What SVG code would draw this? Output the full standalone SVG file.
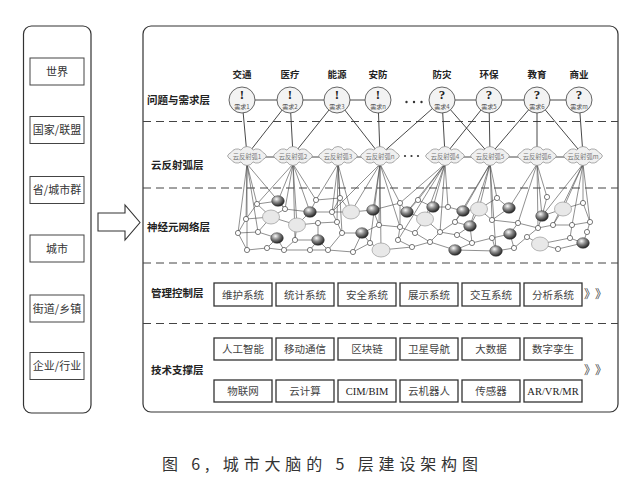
<svg xmlns="http://www.w3.org/2000/svg" width="641" height="491" viewBox="0 0 641 491">
<style>
.pan{fill:#fff;stroke:#333;stroke-width:1.2}
.lb{fill:#fff;stroke:#444;stroke-width:1}
.t{font-family:"Noto Sans CJK SC",sans-serif;fill:#333;text-anchor:middle}
.lay{font-family:"Noto Sans CJK SC",sans-serif;fill:#222;font-weight:700;font-size:10.5px}
.dash{stroke:#444;stroke-width:1;stroke-dasharray:8 5;fill:none}
.ln{stroke:#333;stroke-width:0.9;fill:none}
.nl{stroke:#444;stroke-width:0.6;fill:none}
.sn{fill:#fff;stroke:#444;stroke-width:0.7}
.le{fill:#e8e8e8;stroke:#999;stroke-width:0.7}
.dk{fill:url(#sph);stroke:#333;stroke-width:0.5}
.bx{fill:#fff;stroke:#333;stroke-width:1.3}
.dc{fill:#f3f3f3;stroke:#555;stroke-width:0.9}
.cl{fill:#f0f0f0;stroke:#888;stroke-width:0.7}
.ct{font-family:"Noto Sans CJK SC",sans-serif;fill:#777;font-size:6.3px;text-anchor:middle}
.bt{font-family:"Noto Sans CJK SC",sans-serif;fill:#444;font-size:10.5px;text-anchor:middle}
.sf{font-family:"Liberation Serif",serif;fill:#222;font-size:10.5px;text-anchor:middle}
.mk{font-family:"Liberation Serif",serif;fill:#222;font-size:13px;font-weight:700;text-anchor:middle}
.dq{font-family:"Noto Sans CJK SC",sans-serif;fill:#555;font-size:6px;text-anchor:middle}
.tp{font-family:"Noto Sans CJK SC",sans-serif;fill:#222;font-size:9.5px;font-weight:700;text-anchor:middle}
.ar{font-family:"Noto Sans CJK SC",sans-serif;fill:#444;font-size:12px}
</style>
<defs>
<radialGradient id="sph" cx="38%" cy="32%" r="70%">
<stop offset="0" stop-color="#fafafa"/>
<stop offset="0.45" stop-color="#8a8a8a"/>
<stop offset="1" stop-color="#1e1e1e"/>
</radialGradient>
<path id="cloud" d="M19.5,0 A6.8,6.8 0 0 1 15.8,3.6 A6.8,6.8 0 0 1 6,5.9 A6.8,6.8 0 0 1 -6,5.9 A6.8,6.8 0 0 1 -15.8,3.6 A6.8,6.8 0 0 1 -19.5,0 A6.8,6.8 0 0 1 -15.8,-3.6 A6.8,6.8 0 0 1 -6,-5.9 A6.8,6.8 0 0 1 6,-5.9 A6.8,6.8 0 0 1 15.8,-3.6 A6.8,6.8 0 0 1 19.5,0 Z"/>
</defs>
<rect width="641" height="491" fill="#fff"/>

<g id="scale-panel">
<rect class="pan" x="23.5" y="26" width="67.5" height="387" rx="8"/>
<g id="n-world"><rect class="lb" x="30" y="58" width="54" height="27"/><text class="t" x="57" y="75.5" font-size="11">世界</text></g>
<g id="n-country"><rect class="lb" x="30" y="116.5" width="54" height="27"/><text class="t" x="57" y="134" font-size="11">国家/联盟</text></g>
<g id="n-province"><rect class="lb" x="30" y="176.5" width="54" height="27"/><text class="t" x="57" y="194" font-size="11">省/城市群</text></g>
<g id="n-city"><rect class="lb" x="30" y="235" width="54" height="27"/><text class="t" x="57" y="252.5" font-size="11">城市</text></g>
<g id="n-street"><rect class="lb" x="30" y="295" width="54" height="27"/><text class="t" x="57" y="312.5" font-size="11">街道/乡镇</text></g>
<g id="n-enterprise"><rect class="lb" x="30" y="352.5" width="54" height="27"/><text class="t" x="57" y="370" font-size="11">企业/行业</text></g>
</g>

<g id="big-arrow"><polygon points="98,213 125,213 125,205 140,222.5 125,240 125,231 98,231" fill="#fff" stroke="#333" stroke-width="1.1"/></g>

<g id="layers-panel">
<rect class="pan" x="143" y="26" width="475" height="386" rx="8"/>
<line class="dash" x1="143" y1="121.5" x2="618" y2="121.5"/>
<line class="dash" x1="143" y1="188" x2="618" y2="188"/>
<line class="dash" x1="143" y1="263" x2="618" y2="263"/>
<line class="dash" x1="143" y1="323.5" x2="618" y2="323.5"/>
<text class="lay" x="147" y="104">问题与需求层</text>
<text class="lay" x="151" y="169">云反射弧层</text>
<text class="lay" x="147" y="231">神经元网络层</text>
<text class="lay" x="151" y="297">管理控制层</text>
<text class="lay" x="151" y="374">技术支撑层</text>
</g>

<g id="connectors">
<line class="ln" x1="242" y1="100" x2="378" y2="100"/>
<line class="ln" x1="442" y1="100" x2="579" y2="100"/>
<line class="ln" x1="247" y1="157" x2="380" y2="157"/>
<line class="ln" x1="445" y1="157" x2="583" y2="157"/>
<line class="ln" x1="242" y1="100" x2="247" y2="155"/>
<line class="ln" x1="290" y1="100" x2="247" y2="155"/>
<line class="ln" x1="290" y1="100" x2="293" y2="155"/>
<line class="ln" x1="337" y1="100" x2="293" y2="155"/>
<line class="ln" x1="337" y1="100" x2="380" y2="155"/>
<line class="ln" x1="378" y1="100" x2="380" y2="155"/>
<line class="ln" x1="442" y1="100" x2="380" y2="155"/>
<line class="ln" x1="442" y1="100" x2="445" y2="155"/>
<line class="ln" x1="442" y1="100" x2="490" y2="155"/>
<line class="ln" x1="489" y1="100" x2="445" y2="155"/>
<line class="ln" x1="489" y1="100" x2="490" y2="155"/>
<line class="ln" x1="537" y1="100" x2="490" y2="155"/>
<line class="ln" x1="537" y1="100" x2="537" y2="155"/>
<line class="ln" x1="537" y1="100" x2="583" y2="155"/>
<line class="ln" x1="579" y1="100" x2="583" y2="155"/>
<path class="nl" d="M247,164L238,233M247,164L246,219M247,164L247,250M247,164L258,232M247,164L257,204M247,164L285,209
M293,164L257,204M293,164L278,201M293,164L285,209M293,164L297,225M293,164L295,240M293,164L310,212M293,164L316,200
M338,164L316,200M338,164L332,212M338,164L337,222M338,164L342,233M338,164L340,198M338,164L351,212
M380,164L332,212M380,164L351,212M380,164L373,210M380,164L379,225M380,164L370,243M380,164L381,250M380,164L400,203M380,164L400,227
M445,164L400,203M445,164L407,212M445,164L398,240M445,164L418,200M445,164L425,219M445,164L433,207M445,164L448,207M445,164L440,232
M490,164L463,211M490,164L455,222M490,164L470,226M490,164L479,209M490,164L497,198M490,164L492,220M490,164L496,251
M537,164L509,208M537,164L518,223M537,164L542,216M537,164L547,197M537,164L538,228
M583,164L542,216M583,164L563,209M583,164L553,225M583,164L572,225M583,164L583,203M583,164L590,222"/>
<path class="nl" d="M257,204L278,201M257,204L246,219M246,219L271,217M257,204L271,217M278,201L285,209M271,217L285,209M246,219L238,233M238,233L258,232M258,232L271,217M238,233L247,250M247,250L267,248M267,248L277,238M258,232L277,238M277,238L284,250M267,248L284,250M297,225L271,217
M285,209L310,212M310,212L316,200M316,200L340,198M310,212L332,212M332,212L340,198M310,212L297,225M297,225L318,223M318,223L337,222M337,222L332,212M297,225L295,240M295,240L318,240M318,240L318,223M295,240L284,250M284,250L310,250M310,250L318,240M310,250L328,250M328,250L318,240M328,250L342,233M337,222L342,233M342,233L362,233M362,233L353,252M353,252L328,250M332,212L351,212M351,212L340,198M351,212L373,210M373,210L379,225M362,233L370,243M370,243L381,250M379,225L362,233M370,243L353,252M379,225L400,227M381,250L412,247M373,210L400,203
M400,203L407,212M407,212L418,200M418,200L433,207M407,212L425,219M425,219L433,207M400,203L400,227M400,227L415,233M415,233L425,219M400,227L398,240M398,240L412,247M412,247L430,242M430,242L415,233M430,242L440,232M440,232L425,219M440,232L455,222M433,207L448,207M448,207L463,211M463,211L455,222M463,211L479,209M479,209L470,226M455,222L470,226M470,226L457,235M457,235L440,232M457,235L472,243M472,243L455,250M455,250L430,242M472,243L492,238M470,226L472,243M455,250L496,251
M479,209L492,220M492,220L509,208M509,208L497,198M497,198L479,209M492,220L518,223M518,223L510,234M510,234L492,238M492,238L496,251M496,251L514,248M514,248L510,234M514,248L527,237M527,237L538,228M538,228L518,223M538,228L542,216M542,216L547,197M542,216L563,209M563,209L583,203M563,209L553,225M553,225L538,228M553,225L572,225M572,225L590,222M590,222L587,232M587,232L583,243M583,243L558,249M558,249L540,244M540,244L527,237M540,244L570,238M570,238L572,225M570,238L583,243M583,203L590,222"/>
</g>

<g id="demand-1"><text class="tp" x="242" y="78">交通</text><circle class="dc" cx="242" cy="100" r="13"/><text class="mk" x="242" y="99">!</text><text class="dq" x="242" y="108.5">需求1</text></g>
<g id="demand-2"><text class="tp" x="290" y="78">医疗</text><circle class="dc" cx="290" cy="100" r="13"/><text class="mk" x="290" y="99">!</text><text class="dq" x="290" y="108.5">需求2</text></g>
<g id="demand-3"><text class="tp" x="337" y="78">能源</text><circle class="dc" cx="337" cy="100" r="13"/><text class="mk" x="337" y="99">!</text><text class="dq" x="337" y="108.5">需求3</text></g>
<g id="demand-n"><text class="tp" x="378" y="78">安防</text><circle class="dc" cx="378" cy="100" r="13"/><text class="mk" x="378" y="99">!</text><text class="dq" x="378" y="108.5">需求n</text></g>
<g id="demand-dots" fill="#333"><circle cx="406.5" cy="102" r="1.2"/><circle cx="414" cy="102" r="1.2"/><circle cx="421.5" cy="102" r="1.2"/></g>
<g id="demand-4"><text class="tp" x="442" y="78">防灾</text><circle class="dc" cx="442" cy="100" r="13"/><text class="mk" x="442" y="99" font-weight="400">?</text><text class="dq" x="442" y="108.5">需求4</text></g>
<g id="demand-5"><text class="tp" x="489" y="78">环保</text><circle class="dc" cx="489" cy="100" r="13"/><text class="mk" x="489" y="99" font-weight="400">?</text><text class="dq" x="489" y="108.5">需求5</text></g>
<g id="demand-6"><text class="tp" x="537" y="78">教育</text><circle class="dc" cx="537" cy="100" r="13"/><text class="mk" x="537" y="99" font-weight="400">?</text><text class="dq" x="537" y="108.5">需求6</text></g>
<g id="demand-m"><text class="tp" x="579" y="78">商业</text><circle class="dc" cx="579" cy="100" r="13"/><text class="mk" x="579" y="99" font-weight="400">?</text><text class="dq" x="579" y="108.5">需求m</text></g>

<g id="cloud-1"><use href="#cloud" class="cl" transform="translate(247,156)"/><text class="ct" x="247" y="158.5">云反射弧1</text></g>
<g id="cloud-2"><use href="#cloud" class="cl" transform="translate(293,156)"/><text class="ct" x="293" y="158.5">云反射弧2</text></g>
<g id="cloud-3"><use href="#cloud" class="cl" transform="translate(338,156)"/><text class="ct" x="338" y="158.5">云反射弧3</text></g>
<g id="cloud-n"><use href="#cloud" class="cl" transform="translate(380,156)"/><text class="ct" x="380" y="158.5">云反射弧n</text></g>
<g id="cloud-dots" fill="#333"><circle cx="405" cy="156" r="1.1"/><circle cx="411.5" cy="156" r="1.1"/><circle cx="418" cy="156" r="1.1"/></g>
<g id="cloud-4"><use href="#cloud" class="cl" transform="translate(445,156)"/><text class="ct" x="445" y="158.5">云反射弧4</text></g>
<g id="cloud-5"><use href="#cloud" class="cl" transform="translate(490,156)"/><text class="ct" x="490" y="158.5">云反射弧5</text></g>
<g id="cloud-6"><use href="#cloud" class="cl" transform="translate(537,156)"/><text class="ct" x="537" y="158.5">云反射弧6</text></g>
<g id="cloud-m"><use href="#cloud" class="cl" transform="translate(583,156)"/><text class="ct" x="583" y="158.5">云反射弧m</text></g>

<g id="neurons">
<g class="sn">
<circle cx="246" cy="219" r="2.6"/><circle cx="257" cy="204" r="2.6"/><circle cx="238" cy="233" r="2.6"/><circle cx="258" cy="232" r="2.6"/><circle cx="247" cy="250" r="2.6"/><circle cx="267" cy="248" r="2.6"/><circle cx="285" cy="209" r="2.6"/><circle cx="316" cy="200" r="2.6"/><circle cx="332" cy="212" r="2.6"/><circle cx="318" cy="223" r="2.6"/><circle cx="337" cy="222" r="2.6"/><circle cx="295" cy="240" r="2.6"/><circle cx="284" cy="250" r="2.6"/><circle cx="310" cy="250" r="2.6"/><circle cx="328" cy="250" r="2.6"/><circle cx="340" cy="198" r="2.6"/><circle cx="342" cy="233" r="2.6"/><circle cx="353" cy="252" r="2.6"/><circle cx="370" cy="243" r="2.6"/><circle cx="379" cy="225" r="2.6"/>
<circle cx="400" cy="203" r="2.6"/><circle cx="418" cy="200" r="2.6"/><circle cx="400" cy="227" r="2.6"/><circle cx="415" cy="233" r="2.6"/><circle cx="398" cy="240" r="2.6"/><circle cx="412" cy="247" r="2.6"/><circle cx="430" cy="242" r="2.6"/><circle cx="440" cy="232" r="2.6"/><circle cx="448" cy="207" r="2.6"/><circle cx="455" cy="222" r="2.6"/><circle cx="457" cy="235" r="2.6"/><circle cx="472" cy="243" r="2.6"/><circle cx="492" cy="220" r="2.6"/><circle cx="497" cy="198" r="2.6"/><circle cx="518" cy="223" r="2.6"/><circle cx="492" cy="238" r="2.6"/><circle cx="514" cy="248" r="2.6"/><circle cx="527" cy="237" r="2.6"/><circle cx="538" cy="228" r="2.6"/><circle cx="547" cy="197" r="2.6"/><circle cx="553" cy="225" r="2.6"/><circle cx="572" cy="225" r="2.6"/><circle cx="583" cy="203" r="2.6"/><circle cx="590" cy="222" r="2.6"/><circle cx="587" cy="232" r="2.6"/><circle cx="558" cy="249" r="2.6"/><circle cx="570" cy="238" r="2.6"/>
</g>
<g class="le">
<ellipse cx="271" cy="217" rx="8.5" ry="7"/><ellipse cx="297" cy="225" rx="8.5" ry="7"/><ellipse cx="351" cy="212" rx="8.5" ry="7"/><ellipse cx="381" cy="250" rx="9" ry="7"/><ellipse cx="425" cy="219" rx="8.5" ry="7"/><ellipse cx="479" cy="209" rx="8.5" ry="7"/><ellipse cx="563" cy="209" rx="8.5" ry="7"/><ellipse cx="540" cy="244" rx="8.5" ry="7"/>
</g>
<g class="dk">
<ellipse cx="278" cy="201" rx="6.3" ry="5.3"/><ellipse cx="277" cy="238" rx="6.3" ry="5.3"/><ellipse cx="310" cy="212" rx="6.3" ry="5.3"/><ellipse cx="318" cy="240" rx="6.3" ry="5.3"/><ellipse cx="362" cy="233" rx="6.3" ry="5.3"/><ellipse cx="373" cy="210" rx="6.3" ry="5.3"/><ellipse cx="407" cy="212" rx="6.3" ry="5.3"/><ellipse cx="433" cy="207" rx="6.3" ry="5.3"/><ellipse cx="463" cy="211" rx="6.3" ry="5.3"/><ellipse cx="470" cy="226" rx="6.3" ry="5.3"/><ellipse cx="455" cy="250" rx="6.3" ry="5.3"/><ellipse cx="509" cy="208" rx="6.3" ry="5.3"/><ellipse cx="510" cy="234" rx="6.3" ry="5.3"/><ellipse cx="496" cy="251" rx="6.3" ry="5.3"/><ellipse cx="542" cy="216" rx="6.3" ry="5.3"/><ellipse cx="583" cy="243" rx="6.3" ry="5.3"/>
</g>
</g>

<g id="mgmt">
<g id="m1"><rect class="bx" x="214" y="283" width="58" height="23"/><text class="bt" x="243" y="298.5">维护系统</text></g>
<g id="m2"><rect class="bx" x="276" y="283" width="58" height="23"/><text class="bt" x="305" y="298.5">统计系统</text></g>
<g id="m3"><rect class="bx" x="338" y="283" width="58" height="23"/><text class="bt" x="367" y="298.5">安全系统</text></g>
<g id="m4"><rect class="bx" x="400" y="283" width="58" height="23"/><text class="bt" x="429" y="298.5">展示系统</text></g>
<g id="m5"><rect class="bx" x="462" y="283" width="58" height="23"/><text class="bt" x="491" y="298.5">交互系统</text></g>
<g id="m6"><rect class="bx" x="524" y="283" width="58" height="23"/><text class="bt" x="553" y="298.5">分析系统</text></g>
<text class="ar" x="584" y="298.5">》</text><text class="ar" x="595" y="298.5">》</text>
</g>

<g id="tech">
<g id="t1"><rect class="bx" x="214" y="338" width="58" height="22"/><text class="bt" x="243" y="353">人工智能</text></g>
<g id="t2"><rect class="bx" x="276" y="338" width="58" height="22"/><text class="bt" x="305" y="353">移动通信</text></g>
<g id="t3"><rect class="bx" x="338" y="338" width="58" height="22"/><text class="bt" x="367" y="353">区块链</text></g>
<g id="t4"><rect class="bx" x="400" y="338" width="58" height="22"/><text class="bt" x="429" y="353">卫星导航</text></g>
<g id="t5"><rect class="bx" x="462" y="338" width="58" height="22"/><text class="bt" x="491" y="353">大数据</text></g>
<g id="t6"><rect class="bx" x="524" y="338" width="58" height="22"/><text class="bt" x="553" y="353">数字孪生</text></g>
<g id="t7"><rect class="bx" x="214" y="380" width="58" height="22"/><text class="bt" x="243" y="395">物联网</text></g>
<g id="t8"><rect class="bx" x="276" y="380" width="58" height="22"/><text class="bt" x="305" y="395">云计算</text></g>
<g id="t9"><rect class="bx" x="338" y="380" width="58" height="22"/><text class="sf" x="367" y="394.5">CIM/BIM</text></g>
<g id="t10"><rect class="bx" x="400" y="380" width="58" height="22"/><text class="bt" x="429" y="395">云机器人</text></g>
<g id="t11"><rect class="bx" x="462" y="380" width="58" height="22"/><text class="bt" x="491" y="395">传感器</text></g>
<g id="t12"><rect class="bx" x="524" y="380" width="58" height="22"/><text class="sf" x="553" y="394.5">AR/VR/MR</text></g>
<text class="ar" x="584" y="375">》</text><text class="ar" x="595" y="375">》</text>
</g>

<text x="162" y="470" font-family="'Noto Sans CJK SC',sans-serif" font-size="16" fill="#333" textLength="316" lengthAdjust="spacing">图 6, 城市大脑的 5 层建设架构图</text>
</svg>
